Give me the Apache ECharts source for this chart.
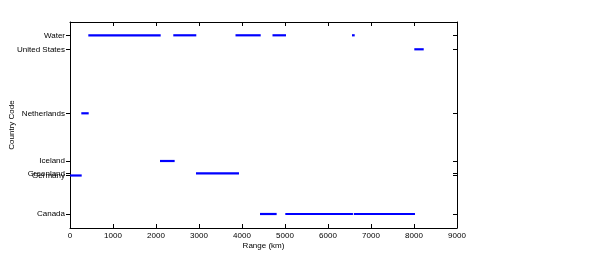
<!DOCTYPE html>
<html>
<head>
<meta charset="utf-8">
<script src="https://cdn.jsdelivr.net/npm/echarts@6/dist/echarts.min.js"></script>
<style>html,body{margin:0;padding:0;background:#fff}#c{width:600px;height:265px}</style>
</head>
<body>
<div id="c"></div>
<script>
// Country names and their code position on the y axis
var countries = ['Canada', 'Germany', 'Greenland', 'Iceland', 'Netherlands', 'United States', 'Water'];
var codes = [14, 52.5, 54.7, 67, 114.7, 178.7, 192.7];
// Range segments (km) for each country: [start, end]
var canadaRanges = [[4419, 4806], [5007, 6580], [6600, 8023]];
var germanyRanges = [[0, 272]];
var greenlandRanges = [[2930, 3930]];
var icelandRanges = [[2093, 2434]];
var netherlandsRanges = [[263, 435]];
var unitedStatesRanges = [[8007, 8226]];
var waterRanges = [[426, 2109], [2402, 2937], [3849, 4435], [4709, 5023], [6558, 6621]];
var xTicks = [0, 1000, 2000, 3000, 4000, 5000, 6000, 7000, 8000, 9000];

var rangesByCountry = [canadaRanges, germanyRanges, greenlandRanges, icelandRanges,
  netherlandsRanges, unitedStatesRanges, waterRanges];
var segData = [];
rangesByCountry.forEach(function (list, i) {
  list.forEach(function (r) { segData.push([r[0], r[1], codes[i]]); });
});

var font = 'Liberation Sans, Arial, sans-serif';
var chart = echarts.init(document.getElementById('c'), null, {renderer: 'canvas'});
chart.setOption({
  backgroundColor: '#ffffff',
  animation: false,
  grid: {left: 70, right: 143, top: 22, bottom: 37, containLabel: false, outerBoundsMode: 'none'},
  xAxis: [{
    type: 'value', min: xTicks[0], max: xTicks[xTicks.length - 1], interval: 1000,
    name: 'Range (km)', nameLocation: 'middle', nameGap: 14, nameMoveOverlap: false,
    nameTextStyle: {fontFamily: font, fontSize: 8, color: '#000'},
    axisLine: {show: true, onZero: false, lineStyle: {color: '#000', width: 1}},
    axisTick: {show: true, inside: true, length: 4, lineStyle: {color: '#000'}},
    axisLabel: {fontFamily: font, fontSize: 8, color: '#000', margin: 4,
      formatter: function (v) { return String(v); }},
    splitLine: {show: false}
  }, {
    type: 'value', position: 'top', min: xTicks[0], max: xTicks[xTicks.length - 1], interval: 1000,
    axisLine: {show: true, onZero: false, lineStyle: {color: '#000', width: 1}},
    axisTick: {show: true, inside: true, length: 4, lineStyle: {color: '#000'}},
    axisLabel: {show: false},
    splitLine: {show: false}
  }],
  yAxis: [{
    type: 'value', min: 0, max: 206,
    name: 'Country Code', nameLocation: 'middle', nameGap: 54, nameMoveOverlap: false,
    nameTextStyle: {fontFamily: font, fontSize: 8, color: '#000'},
    axisLine: {show: true, onZero: false, lineStyle: {color: '#000', width: 1}},
    axisTick: {show: true, inside: false, length: 4, customValues: codes, lineStyle: {color: '#000'}},
    axisLabel: {
      fontFamily: font, fontSize: 8, color: '#000', margin: 5, customValues: codes, hideOverlap: false,
      formatter: function (v) {
        for (var i = 0; i < codes.length; i++) { if (Math.abs(codes[i] - v) < 1e-6) return countries[i]; }
        return '';
      }
    },
    splitLine: {show: false}
  }, {
    type: 'value', position: 'right', min: 0, max: 206,
    axisLine: {show: true, onZero: false, lineStyle: {color: '#000', width: 1}},
    axisTick: {show: true, inside: true, length: 4, customValues: codes, lineStyle: {color: '#000'}},
    axisLabel: {show: false},
    splitLine: {show: false}
  }],
  series: [{
    type: 'custom',
    xAxisIndex: 0, yAxisIndex: 0,
    clip: true,
    data: segData,
    encode: {x: [0, 1], y: 2},
    renderItem: function (params, api) {
      var p1 = api.coord([api.value(0), api.value(2)]);
      var p2 = api.coord([api.value(1), api.value(2)]);
      return {
        type: 'line',
        shape: {x1: p1[0], y1: p1[1], x2: p2[0], y2: p2[1]},
        style: {stroke: '#0000ff', lineWidth: 2.2}
      };
    }
  }]
});
</script>
</body>
</html>
